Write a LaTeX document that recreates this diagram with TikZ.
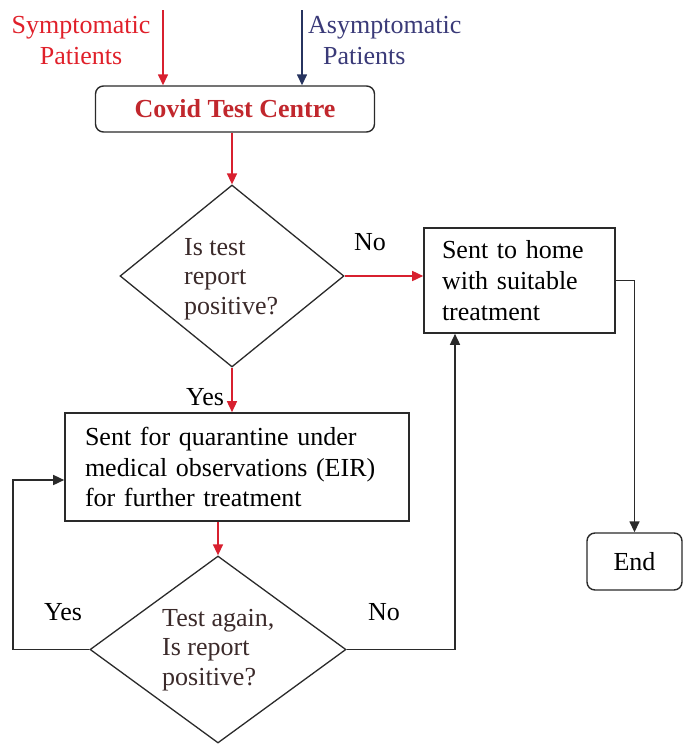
\documentclass[tikz,border=0pt]{standalone}
\usepackage{fontspec}
\setmainfont{Liberation Serif}
\usetikzlibrary{arrows.meta,shapes.geometric,calc}
\definecolor{arrred}{HTML}{D8202F}
\definecolor{txtred}{HTML}{E0202A}
\definecolor{boldred}{HTML}{C1272D}
\definecolor{arrblue}{HTML}{27345F}
\definecolor{txtblue}{HTML}{3A3A78}
\definecolor{linegray}{HTML}{2A2A2A}
\definecolor{dtext}{HTML}{3B2A2A}
\tikzset{
  basefont/.style={font=\fontsize{26}{31}\selectfont},
  tip/.style={-{Triangle[length=11pt,width=10pt]}},
  redarrow/.style={draw=arrred,line width=1.5pt,tip,arrred},
  bluearrow/.style={draw=arrblue,line width=1.5pt,tip,arrblue},
  blkarrow/.style={draw=linegray,line width=1.5pt,tip,linegray},
  roundbox/.style={draw=linegray,line width=1.4pt,rounded corners=8pt,inner sep=0pt},
  plainbox/.style={draw=linegray,line width=1.6pt,basefont,align=left,inner ysep=0pt},
  decision/.style={diamond,draw=linegray,line width=1.3pt,inner sep=0pt},
  dtxt/.style={align=left,inner sep=0pt,text=dtext,font=\fontsize{26}{29.5}\selectfont},
  lbl/.style={basefont,inner sep=0pt,text=black},
}
\begin{document}
\begin{tikzpicture}[x=1pt,y=-1pt]
\useasboundingbox (0,0) rectangle (699,747);
% top labels
\node[basefont,align=center,inner sep=0pt,text=txtred] (sym) at (81,41) {Symptomatic\\Patients};
\node[basefont,align=left,inner sep=0pt,text=txtblue,anchor=west] (asym) at (308,41) {Asymptomatic\\\hspace*{15pt}Patients};
\coordinate (s0) at (163,10);
\coordinate (a0) at (302,10);
% boxes
\node[roundbox,minimum width=279pt,minimum height=46pt,font=\fontsize{26}{31}\selectfont\bfseries,text=boldred] (covid) at (235,109) {Covid Test Centre};
\node[decision,minimum width=224pt,minimum height=182pt] (d1) at (232,276) {};
\node[dtxt,anchor=west] (d1t) at (184,279) {Is test\\report\\positive?};
\node[plainbox,text width=155pt,inner xsep=18pt,minimum height=105pt] (home) at (519.5,280.5) {Sent to home\\with suitable\\treatment};
\node[plainbox,text width=304pt,inner xsep=20pt,minimum height=108pt,font=\fontsize{26}{30.5}\selectfont] (quar) at (237,467) {Sent for quarantine under\\medical observations (EIR)\\for further treatment};
\node[decision,minimum width=256pt,minimum height=187pt] (d2) at (218,649.5) {};
\node[dtxt,anchor=west] (d2t) at (162,650) {Test again,\\Is report\\positive?};
\node[roundbox,basefont,minimum width=95pt,minimum height=57pt] (endn) at (634.5,561.5) {End};
% labels
\node[lbl] (no1) at (370,242) {No};
\node[lbl] (yes1) at (205,397) {Yes};
\node[lbl] (yes2) at (63,612) {Yes};
\node[lbl] (no2) at (384,612) {No};
% connectors
\draw[redarrow] (s0) -- (s0 |- covid.north);
\draw[bluearrow] (a0) -- (a0 |- covid.north);
\draw[redarrow] (d1.north |- covid.south) -- (d1.north);
\draw[redarrow] (d1.east) -- (d1.east -| home.west);
\draw[redarrow] (d1.south) -- (d1.south |- quar.north);
\draw[redarrow] (d2.north |- quar.south) -- (d2.north);
\draw[blkarrow] (home.east) -| (endn.north);
\coordinate (lp) at (13,480);
\draw[blkarrow] (d2.west) -| (lp) -- (lp -| quar.west);
\coordinate (rp) at (455,400);
\draw[blkarrow] (d2.east) -| (rp |- home.south);
\end{tikzpicture}
\end{document}
